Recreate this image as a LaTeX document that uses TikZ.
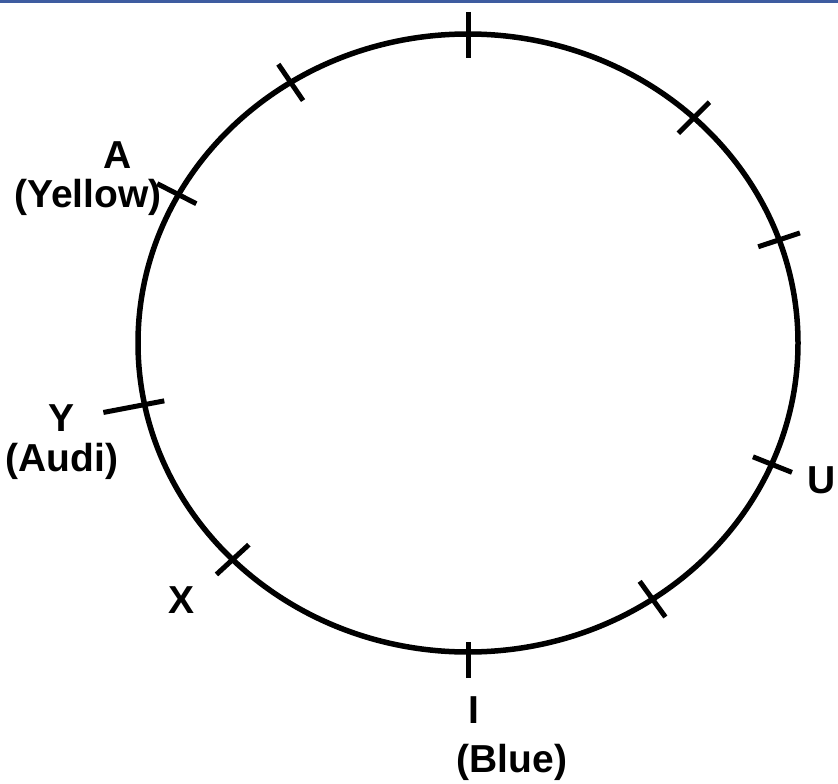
\documentclass[tikz,border=0pt]{standalone}
\usepackage{fontspec}
\setmainfont{Liberation Sans}
\usepackage{tikz}
\usetikzlibrary{calc}
\usepackage{xcolor}
\definecolor{topbar}{RGB}{62,92,160}

\begin{document}
\begin{tikzpicture}[x=1pt, y=-1pt,
  rim/.style={line width=5.5pt},
  seatmark/.style={line width=5pt},
  seatlabel/.style={font=\fontsize{39}{42}\selectfont\bfseries, inner sep=0pt}]
  \useasboundingbox (0,0) rectangle (838,784);
  \fill[topbar] (0,0) rectangle (838,3);
  \coordinate (c) at (468,343);
  \draw[rim] (c) ellipse [x radius=330pt, y radius=309pt];
  % ten seats round the table
  \foreach \t/\din/\dout [count=\i] in {90/24/22, 122.5/22/22, 151.3/20/24, 191.5/20/42, 224.5/22/22,
                                        270/10/26, 304/22/22, 336.9/20/22, 19.5/22/22, 46.8/22/22} {
    \coordinate (s\i) at ($(c)+({-\t}:330 and 309)$);
    \draw[seatmark] ($(s\i)!-\dout pt!(c)$) -- ($(s\i)!\din pt!(c)$);
  }
  \node[seatlabel] (nameA) at (118,155) {A};
  \node[seatlabel] (colA) at (88,197) {(Yellow)};
  \node[seatlabel] (nameY) at (62,418) {Y};
  \node[seatlabel] (colY) at (62,461) {(Audi)};
  \node[seatlabel] (nameX) at (182,600) {X};
  \node[seatlabel] (nameU) at (822,480) {U};
  \node[seatlabel] (nameI) at (474,710) {I};
  \node[seatlabel] (colI) at (512,762) {(Blue)};
\end{tikzpicture}
\end{document}
